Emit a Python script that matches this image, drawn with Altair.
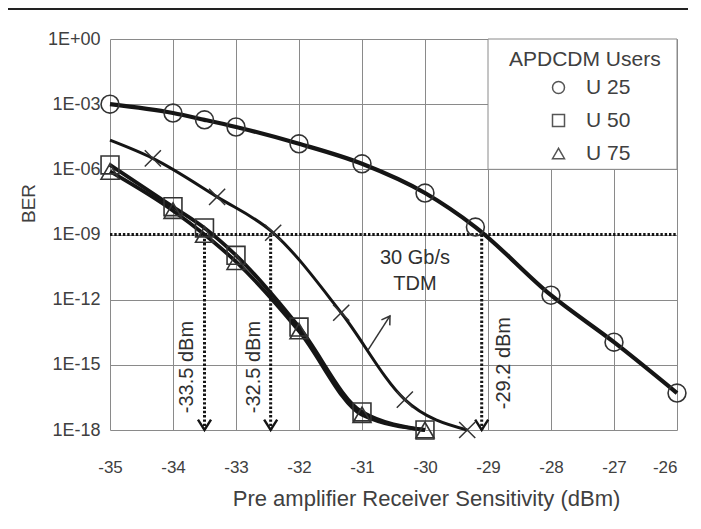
import altair as alt
import pandas as pd

# ---- values ----
u25_x = [-35, -34, -33.5, -33, -32, -31, -30, -29.2, -28, -27, -26]
u25_ber = [1.0e-3, 3.9e-4, 1.9e-4, 8.9e-5, 1.5e-5, 1.8e-6, 8.1e-8, 2.2e-9, 1.6e-12, 1.1e-14, 5.0e-17]

u50_x = [-35, -34, -33.5, -33, -32, -31, -30]
u50_ber = [1.6e-6, 1.9e-8, 2.0e-9, 1.1e-10, 5.5e-14, 6.8e-18, 1.0e-18]

u75_x = [-35, -34, -33.5, -33, -32, -31, -30]
u75_ber = [8.0e-7, 1.25e-8, 1.0e-9, 5.6e-11, 3.6e-14, 5.0e-18, 1.0e-18]

tdm_x = [-35, -34.32, -33.3, -32.41, -31.33, -30.32, -29.33]
tdm_ber = [2.2e-5, 3.2e-6, 5.4e-8, 1.2e-9, 2.5e-13, 2.5e-17, 1.0e-18]
tdm_marked = [False, True, True, True, True, True, True]

series_names = ["U 25", "U 50", "U 75"]
series_shapes = ["circle", "square", "triangle-up"]

x_ticks = [-35, -34, -33, -32, -31, -30, -29, -28, -27, -26]
y_ticks = [1.0, 1e-3, 1e-6, 1e-9, 1e-12, 1e-15, 1e-18]

ber_limit = 1e-9
ber_floor = 1e-18
sens_x = [-33.5, -32.45, -29.1]
sens_labels = ["-33.5 dBm", "-32.5 dBm", "-29.2 dBm"]
sens_label_x = [-33.78, -32.71, -28.75]
sens_label_ber = [7.9e-16, 7.9e-16, 1.2e-15]

tdm_note = ["30 Gb/s", "TDM"]
tdm_note_x = [-30.16, -30.16]
tdm_note_ber = [8.3e-11, 5.2e-12]
tdm_arrow_x = [-30.905, -30.556]
tdm_arrow_ber = [4.8e-15, 1.78e-13]

legend_box_x = [-29, -26]
legend_box_ber = [1.0, 1e-6]

# ---- tables ----
rows = []
for name, xs_, ys_ in [("U 25", u25_x, u25_ber), ("U 50", u50_x, u50_ber), ("U 75", u75_x, u75_ber)]:
    for a, b in zip(xs_, ys_):
        rows.append({"series": name, "x": a, "ber": b})
users = pd.DataFrame(rows)
tdm = pd.DataFrame({"x": tdm_x, "ber": tdm_ber, "marked": tdm_marked})

GRID = "#8a8a8a"
TXT = "#404040"
INK = "#151515"

xs = alt.Scale(domain=[-35, -26], nice=False, zero=False)
ys = alt.Scale(type="log", domain=[1e-18, 1.0], nice=False)

x_axis = alt.Axis(
    values=x_ticks, grid=True, gridColor=GRID, gridWidth=1, domain=False, ticks=False,
    labelFontSize=17, labelColor=TXT, labelPadding=29,
    labelExpr="(datum.value < 0 ? '-' : '') + abs(datum.value)",
    labelAlign={"condition": {"test": "datum.value == -26", "value": "right"}, "value": "center"},
    title="Pre amplifier Receiver Sensitivity (dBm)", titleFontSize=22, titleFontWeight="normal",
    titleColor=TXT, titleX=316, titleY=68, titleAlign="center", titleBaseline="middle",
)
y_axis = alt.Axis(
    values=y_ticks, grid=True, gridColor=GRID, gridWidth=1, domain=False, ticks=False,
    labelFontSize=18, labelColor=TXT, labelPadding=10,
    labelExpr="'1E' + (datum.value >= 1 ? '+' : '-') + pad(toString(abs(round(log(datum.value)/LN10))), 2, '0', 'left')",
    title="BER", titleFontSize=19, titleFontWeight="normal", titleColor=TXT,
    titleAngle=270, titleX=-82, titleY=164, titleAlign="center", titleBaseline="middle",
)


def X(field="x"):
    return alt.X(f"{field}:Q", scale=xs, axis=x_axis)


def Y(field="ber"):
    return alt.Y(f"{field}:Q", scale=ys, axis=y_axis)


DOT = dict(color=INK, strokeWidth=3, strokeDash=[2.4, 1.9])

box = alt.Chart(pd.DataFrame({"x": [legend_box_x[0]], "x2": [legend_box_x[1]],
                              "ber": [legend_box_ber[0]], "ber2": [legend_box_ber[1]]})).mark_rect(
    fill="white", stroke=GRID, strokeWidth=1
).encode(x=X(), x2="x2:Q", y=Y(), y2="ber2:Q")

hline = alt.Chart(pd.DataFrame({"x": [-35], "x2": [-26], "ber": [ber_limit]})).mark_rule(**DOT).encode(
    x=X(), x2="x2:Q", y=Y())

sens = pd.DataFrame({"x": sens_x, "ber": [ber_limit] * 3, "ber2": [ber_floor] * 3})
vlines = alt.Chart(sens).mark_rule(**DOT).encode(x=X(), y=Y(), y2="ber2:Q")
heads = alt.Chart(sens).mark_point(
    shape="M-1,-1.6L0,0L1,-1.6", size=170, filled=False, stroke=INK, strokeWidth=2.4, opacity=1
).encode(x=X(), y=alt.Y("ber2:Q", scale=ys, axis=y_axis))

sens_text = alt.Chart(pd.DataFrame({"x": sens_label_x, "ber": sens_label_ber, "t": sens_labels})).mark_text(
    angle=270, fontSize=20, color="#303030", align="center", baseline="middle"
).encode(x=X(), y=Y(), text="t:N")


def curve(name, width):
    return alt.Chart(users).transform_filter(alt.datum.series == name).mark_line(
        color=INK, strokeWidth=width, interpolate="monotone"
    ).encode(x=X(), y=Y())

l75 = curve("U 75", 3.8)
l50 = curve("U 50", 3.8)
l25 = curve("U 25", 4.2)
ltdm = alt.Chart(tdm).mark_line(color=INK, strokeWidth=3.0, interpolate="monotone").encode(x=X(), y=Y())

markers = alt.Chart(users).mark_point(
    filled=False, size=320, stroke="#333333", strokeWidth=1.6, opacity=1
).encode(
    x=X(), y=Y(),
    shape=alt.Shape(
        "series:N",
        scale=alt.Scale(domain=series_names, range=series_shapes),
        legend=alt.Legend(
            title="APDCDM Users", orient="none", legendX=399, legendY=10, padding=0,
            titleFontSize=21, titleFontWeight="normal", titleColor=TXT, titlePadding=7,
            labelFontSize=21, labelColor=TXT, labelOffset=17, rowPadding=11,
            symbolSize=144, symbolOffset=39, symbolStrokeColor="#555555", symbolStrokeWidth=1.5,
            symbolFillColor="transparent",
        ),
    ),
)

tdm_marks = alt.Chart(tdm).transform_filter(alt.datum.marked).mark_point(
    shape="M-1,-1L1,1M-1,1L1,-1", size=260, filled=False, stroke="#333333", strokeWidth=1.5, opacity=1
).encode(x=X(), y=Y())

note = alt.Chart(pd.DataFrame({"x": tdm_note_x, "ber": tdm_note_ber, "t": tdm_note})).mark_text(
    fontSize=20, color="#303030", align="center", baseline="middle"
).encode(x=X(), y=Y(), text="t:N")

arrow = alt.Chart(pd.DataFrame({"x": [tdm_arrow_x[0]], "x2": [tdm_arrow_x[1]],
                                "ber": [tdm_arrow_ber[0]], "ber2": [tdm_arrow_ber[1]]})).mark_rule(
    color="#333333", strokeWidth=1.5
).encode(x=X(), x2="x2:Q", y=Y(), y2="ber2:Q")
arrow_head = alt.Chart(pd.DataFrame({"x": [tdm_arrow_x[1]], "ber": [tdm_arrow_ber[1]]})).mark_point(
    shape="M-1,1.6L0,0L1,1.6", size=100, angle=33, filled=False, stroke="#333333", strokeWidth=1.5, opacity=1
).encode(x=X(), y=Y())

# frame line along the top edge of the picture (kept inside the drawing)
dummy = pd.DataFrame({"a": [0]})
frame_top = alt.Chart(dummy).mark_rule(color="#222222", strokeWidth=2).encode(
    x=alt.value(-102), x2=alt.value(578), y=alt.value(-30))

chart = alt.layer(
    box, hline, vlines, heads, sens_text, l75, l50, l25, ltdm, markers, tdm_marks,
    note, arrow, arrow_head, frame_top
).properties(
    width=567, height=391,
    autosize=alt.AutoSizeParams(type="none"),
    padding={"left": 102, "top": 31, "right": 12, "bottom": 84},
).configure(
    font="Liberation Sans", background="white"
).configure_view(stroke=None)

chart.save("out.html", embed_options={"renderer": "svg", "actions": False})
